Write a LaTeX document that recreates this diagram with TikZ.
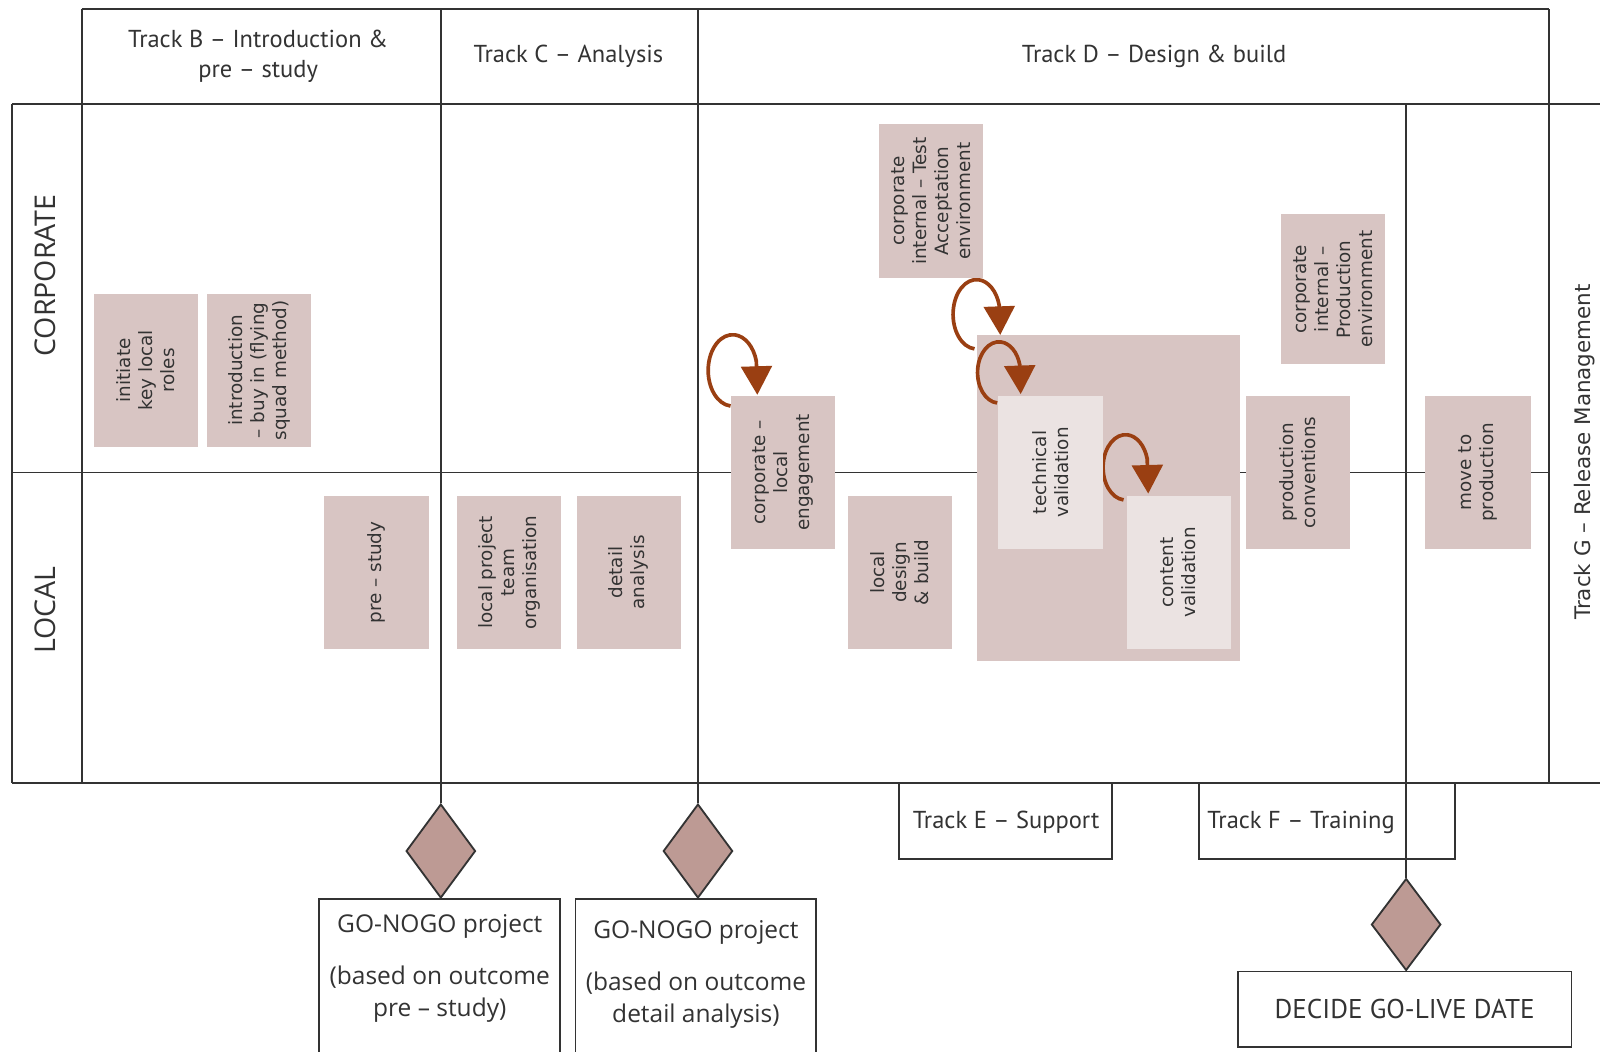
\documentclass[tikz,border=0pt]{standalone}
\usepackage{fontspec}
\setmainfont{PT Sans}
\newfontfamily\boxfont{DejaVu Sans}
\newfontfamily\lanefont{Open Sans}
\usetikzlibrary{arrows.meta,shapes.geometric}
\definecolor{boxfill}{HTML}{D8C5C3}
\definecolor{lightfill}{HTML}{EBE3E2}
\definecolor{diafill}{HTML}{BD9A94}
\definecolor{gridline}{HTML}{333333}
\definecolor{loopcol}{HTML}{9A3F12}
\definecolor{txt}{HTML}{333333}
\begin{document}
\begin{tikzpicture}[x=0.5pt,y=-0.5pt,
  grid/.style={draw=gridline, line width=0.9pt},
  actbox/.style={fill=boxfill, draw=none, rotate=90, align=center, inner sep=0pt,
    minimum width=75pt, minimum height=51pt, text=txt,
    font=\boxfont\fontsize{9}{10.75}\selectfont},
  lightbox/.style={actbox, fill=lightfill},
  bigbox/.style={fill=boxfill, draw=none, minimum width=129pt, minimum height=160pt, inner sep=0pt},
  decision/.style={diamond, draw=gridline, line width=0.9pt, fill=diafill, inner sep=0pt,
    minimum width=34pt, minimum height=46pt},
  framebox/.style={draw=gridline, line width=0.9pt, inner sep=0pt},
  headtext/.style={align=center, text=txt, font=\fontsize{12}{15}\selectfont},
  lanetext/.style={rotate=90, text=txt, font=\lanefont\fontsize{14}{16}\selectfont},
  gotext/.style={align=center, text=txt, font=\lanefont\fontsize{12}{15.5}\selectfont},
  selfloop/.style={draw=loopcol, line width=1.8pt, -{Triangle[length=14pt,width=15pt]}}
]
\useasboundingbox (0,0) rectangle (1568,1030);
\clip (0,0) rectangle (1568,1030);
\fill[white] (0,0) rectangle (1568,1030);

% ---------- frame ----------
\coordinate (hl) at (80,9);
\coordinate (hr) at (1518,9);
\draw[grid] (hl) -- (hr);
\draw[grid] (12,102) -- (1568,102);
\draw[grid] (12,463) -- (1518,463);
\draw[grid] (12,767) -- (1568,767);
\draw[grid] (12,102) -- (12,767);
\draw[grid] (hl) -- (80,767);
\draw[grid] (hr) -- (1518,767);

% ---------- header texts ----------
\node[headtext] (trB) at (253,55) {Track B – Introduction \&\\pre – study};
\node[headtext] (trC) at (557,55) {Track C – Analysis};
\node[headtext] (trD) at (1131,55) {Track D – Design \& build};

% ---------- lane labels ----------
\node[lanetext] (corp) at (44,270) {CORPORATE};
\node[lanetext] (local) at (44,598) {LOCAL};
\node[rotate=90, text=txt, font=\boxfont\fontsize{10.5}{12}\selectfont] (trG) at (1553,443) {Track G – Release Management};

% ---------- decisions ----------
\node[decision] (d1) at (432,834) {};
\node[decision] (d2) at (684,834) {};
\node[decision, minimum height=45pt] (d3) at (1378,906) {};
\coordinate (c1top) at (432,9);
\coordinate (c2top) at (684,9);
\coordinate (c3top) at (1378,102);
\draw[grid] (c1top) -- (d1.north);
\draw[grid] (c2top) -- (d2.north);
\draw[grid] (c3top) -- (d3.north);

% ---------- bottom boxes ----------
\node[framebox, minimum width=104.5pt, minimum height=37.5pt] (trE) at (985.5,804.5) {};
\node[headtext] (trEt) at (986,806) {Track E – Support};
\node[framebox, minimum width=125.5pt, minimum height=37.5pt] (trF) at (1300.5,804.5) {};
\node[headtext] (trFt) at (1275,806) {Track F – Training};

\node[framebox, minimum width=118pt, minimum height=82pt] (go1) at (431,963) {};
\node[gotext] (go1a) at (431,908) {GO-NOGO project};
\node[gotext] (go1b) at (431,974) {(based on outcome\\pre – study)};
\node[framebox, minimum width=118pt, minimum height=82pt] (go2) at (682,963) {};
\node[gotext] (go2a) at (682,914) {GO-NOGO project};
\node[gotext] (go2b) at (682,980) {(based on outcome\\detail analysis)};
\node[framebox, minimum width=163.5pt, minimum height=37pt, text=txt, font=\fontsize{13.3}{15}\selectfont] (golive) at (1376.5,989) {DECIDE GO-LIVE DATE};

% ---------- big validation box ----------
\node[bigbox] (valid) at (1086,488) {};

% ---------- self loops ----------
\coordinate (L1) at (718,363);
\coordinate (L2) at (957,308);
\coordinate (L3) at (979,365);
\coordinate (L4) at (1103,458);
\draw[selfloop] (L1) ++(95:24 and 35) arc[start angle=95, end angle=345, x radius=24, y radius=35] -- ++(1,33);
\draw[selfloop] (L2) ++(95:23 and 34) arc[start angle=95, end angle=345, x radius=23, y radius=34] -- ++(1,29);
\draw[selfloop] (L3) ++(95:21 and 30) arc[start angle=95, end angle=345, x radius=21, y radius=30] -- ++(1,29);
\draw[selfloop] (L4) ++(95:22 and 32) arc[start angle=95, end angle=345, x radius=22, y radius=32] -- ++(1,34);

% ---------- activity boxes ----------
\node[actbox] (init) at (143,363) {initiate\\key local\\roles};
\node[actbox] (intro) at (254,363) {introduction\\– buy in (flying\\squad method)};
\node[actbox] (cite) at (912.5,197) {corporate\\internal – Test\\Acceptation\\environment};
\node[actbox, minimum width=73.5pt] (cipe) at (1306.5,283.5) {corporate\\internal –\\Production\\environment};
\node[actbox] (cle) at (767,463) {corporate –\\local\\engagement};
\node[lightbox] (tech) at (1029.5,463) {technical\\validation};
\node[lightbox] (content) at (1155,561) {content\\validation};
\node[actbox] (prodconv) at (1272,463) {production\\conventions};
\node[actbox, minimum height=52pt] (move) at (1448,463) {move to\\production};
\node[actbox] (pre) at (369,561) {pre – study};
\node[actbox] (lpto) at (499,561) {local project\\team\\organisation};
\node[actbox] (detail) at (616,561) {detail\\analysis};
\node[actbox] (ldb) at (882,561) {local\\design\\\& build};
\end{tikzpicture}
\end{document}
